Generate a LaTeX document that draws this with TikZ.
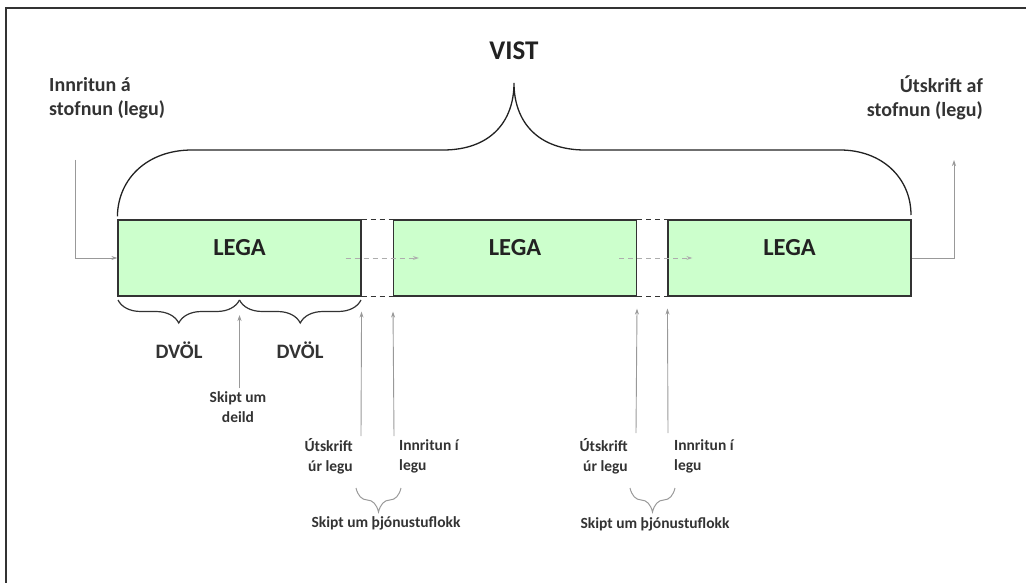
\documentclass[tikz,border=0pt]{standalone}
\usepackage{fontspec}
\setmainfont{Carlito}
\usetikzlibrary{arrows.meta,decorations.pathreplacing}
\definecolor{boxfill}{HTML}{CCFFCC}
\definecolor{txtdark}{HTML}{222222}
\definecolor{txtmid}{HTML}{333333}
\definecolor{arrgray}{HTML}{999999}
\tikzset{
  legabox/.style={draw=txtmid, line width=1.2pt, fill=boxfill, minimum width=243pt, minimum height=76pt, inner sep=0pt},
  legatxt/.style={font=\fontsize{24.5}{28}\selectfont\bfseries, text=txtdark, inner sep=0pt},
  bigtxt/.style={font=\fontsize{20}{24.5}\selectfont\bfseries, text=txtmid, inner sep=0pt},
  smalltxt/.style={font=\fontsize{15.5}{20}\selectfont\bfseries, text=txtmid, inner sep=0pt},
  dvoltxt/.style={font=\fontsize{20.5}{24}\selectfont\bfseries, text=txtmid, inner sep=0pt},
  garr/.style={draw=arrgray, line width=0.9pt, -{Stealth[length=6pt,width=4pt]}},
  gdash/.style={draw=arrgray!80, line width=1pt, dashed, dash pattern=on 5pt off 4pt, -{Stealth[length=6pt,width=4pt]}},
  gapdash/.style={draw=txtmid, line width=1.2pt, dash pattern=on 5pt off 4pt},
  bracedark/.style={draw=txtmid, line width=1.2pt, decorate, decoration={brace, mirror, amplitude=23pt}},
  bracegray/.style={draw=arrgray, line width=1pt, decorate, decoration={brace, mirror, amplitude=24pt}},
}
\begin{document}
\begin{tikzpicture}[x=1pt,y=-1pt]
\useasboundingbox (0,0) rectangle (1026,583);
% frame
\draw[draw=txtmid, line width=2pt] (6,590) -- (6,8) -- (1030,8);
% boxes
\node[legabox] (box1) at (239.5,258) {};
\node[legabox] (box2) at (515,258) {};
\node[legabox] (box3) at (789.5,258) {};
\node[legatxt] (l1) at (box1.center) [yshift=10pt] {LEGA};
\node[legatxt] (l2) at (box2.center) [yshift=10pt] {LEGA};
\node[legatxt] (l3) at (box3.center) [yshift=10pt] {LEGA};
% gaps
\draw[gapdash] (box1.north east) -- (box2.north west);
\draw[gapdash] (box1.south east) -- (box2.south west);
\draw[gapdash] (box2.north east) -- (box3.north west);
\draw[gapdash] (box2.south east) -- (box3.south west);
% dashed flows
\draw[gdash, shorten <=-16pt, shorten >=-26pt] (box1.east) -- (box2.west);
\draw[gdash, shorten <=-18pt, shorten >=-25pt] (box2.east) -- (box3.west);
% VIST brace
\node[font=\fontsize{27}{32}\selectfont\bfseries, text=txtdark, inner sep=0pt] (vist) at (514,51) {VIST};
\coordinate (bpeak) at (514,83);
\draw[draw=txtdark, line width=1.3pt] (box1.north west) ++(0,-3)
  .. controls (118,178) and (148,150) .. (192,150) -- (443,150)
  .. controls (490,150) and (514,122) .. (bpeak)
  .. controls (514,122) and (538,150) .. (585,150) -- (840,150)
  .. controls (882,150) and (911,178) .. (911,215);
% in / out of stay
\node[bigtxt, anchor=west, align=left] (inL) at (49,98) {Innritun á\\stofnun (legu)};
\node[bigtxt, anchor=east, align=right] (outR) at (983,98) {Útskrift af\\stofnun (legu)};
\coordinate (inStart) at (75,160);
\coordinate (outEnd) at (954,160);
\draw[garr] (inStart) |- (box1.west);
\draw[garr] (box3.east) -| (outEnd);
% DVÖL braces
\coordinate (bmid) at (239.5,300);
\draw[bracedark] (118,300) -- (bmid);
\draw[bracedark] (bmid) -- (361,300);
\node[dvoltxt] (d1) at (179,350) {DVÖL};
\node[dvoltxt] (d2) at (300,350) {DVÖL};
\node[smalltxt, align=center] (deild) at (238,407) {Skipt um\\deild};
\draw[garr, shorten <=3pt] (deild.north -| bmid) -- ([yshift=-15pt]bmid);
% group 1
\node[smalltxt, anchor=east, align=right] (ut1) at (353,456) {Útskrift\\úr legu};
\node[smalltxt, anchor=west, align=left] (inn1) at (399,456) {Innritun í\\legu};
\coordinate (a1s) at (361,436);
\coordinate (a2s) at (394,436);
\draw[garr, shorten >=15pt] (a1s) -- (box1.south east);
\draw[garr, shorten >=15pt] (a2s) -- (box2.south west);
\draw[bracegray] (356,488) -- (401,488);
\node[smalltxt] (sk1) at (386,523) {Skipt um þjónustuflokk};
% group 2
\node[smalltxt, anchor=east, align=right] (ut2) at (628,456) {Útskrift\\úr legu};
\node[smalltxt, anchor=west, align=left] (inn2) at (674,456) {Innritun í\\legu};
\coordinate (b1s) at (636,433);
\coordinate (b2s) at (668,433);
\draw[garr, shorten >=12pt] (b1s) -- (box2.south east);
\draw[garr, shorten >=12pt] (b2s) -- (box3.south west);
\draw[bracegray] (630,488) -- (675,488);
\node[smalltxt] (sk2) at (655,524) {Skipt um þjónustuflokk};
\end{tikzpicture}
\end{document}
